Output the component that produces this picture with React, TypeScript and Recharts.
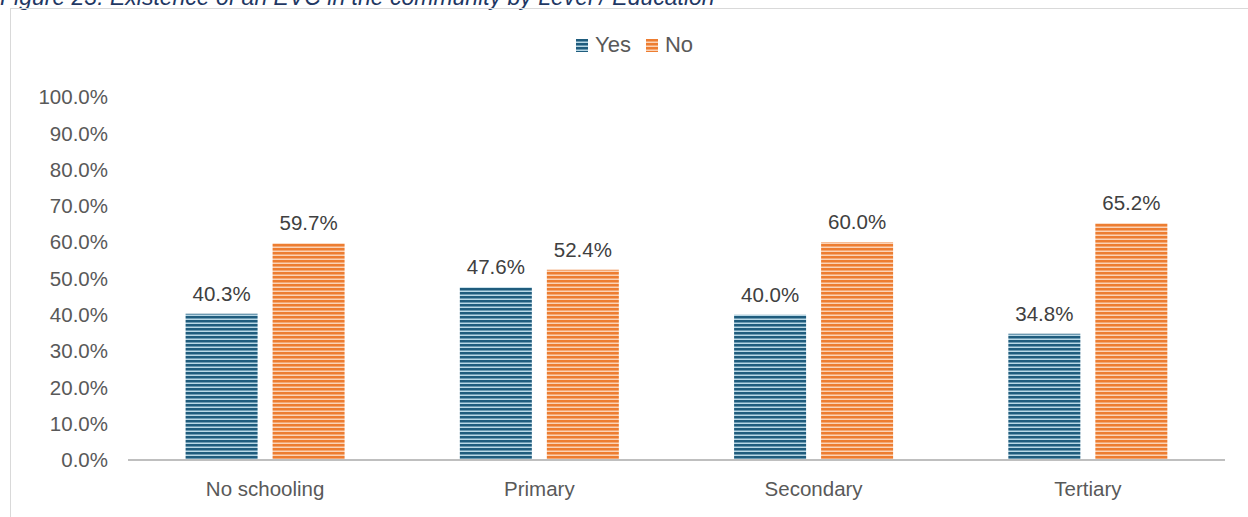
import { BarChart, Bar, XAxis, YAxis, LabelList } from "recharts";

const categories = ["No schooling", "Primary", "Secondary", "Tertiary"];
const yesValues = [40.3, 47.6, 40.0, 34.8];
const noValues = [59.7, 52.4, 60.0, 65.2];
const yTicks = [0, 10, 20, 30, 40, 50, 60, 70, 80, 90, 100];

const data = categories.map((name, i) => ({ name, yes: yesValues[i], no: noValues[i] }));

const font = "'Liberation Sans', Arial, sans-serif";
const fs = 20.5;
const pct = (v: any) => `${Number(v).toFixed(1)}%`;

const Swatch = ({ id }: { id: string }) => (
  <svg width={12} height={13} style={{ marginRight: 7 }}>
    <rect width={12} height={13} fill={`url(#${id})`} />
  </svg>
);

export default function App() {
  return (
    <div style={{ position: "absolute", left: 0, top: 0, width: 1248, height: 517, overflow: "hidden", background: "#fff", fontFamily: font }}>
      <div style={{ position: "absolute", left: 0, top: -16, fontSize: 23, fontStyle: "italic", color: "#1f3864", whiteSpace: "nowrap" }}>
        Figure 23: Existence of an EVC in the community by Level / Education
      </div>
      <div style={{ position: "absolute", left: 10, top: 8, width: 1300, height: 600, border: "1px solid #d9d9d9" }} />
      <svg width={0} height={0} style={{ position: "absolute" }}>
        <defs>
          <pattern id="stripeBlueL" width={4} height={4} patternUnits="userSpaceOnUse">
            <rect width={4} height={4} fill="#1f5c7d" />
            <rect y={2.5} width={4} height={1.5} fill="#b9d8e6" />
          </pattern>
          <pattern id="stripeOrangeL" width={4} height={4} patternUnits="userSpaceOnUse">
            <rect width={4} height={4} fill="#ed7d31" />
            <rect y={2.5} width={4} height={1.5} fill="#fbd3b6" />
          </pattern>
        </defs>
      </svg>
      <div style={{ position: "absolute", left: 576, top: 32, display: "flex", alignItems: "center", fontSize: 22, color: "#595959" }}>
        <Swatch id="stripeBlueL" />
        <span style={{ marginRight: 15 }}>Yes</span>
        <Swatch id="stripeOrangeL" />
        <span>No</span>
      </div>
      <div style={{ position: "absolute", left: 0, top: 0 }}>
        <BarChart width={1248} height={517} data={data} margin={{ top: 97, right: 23, bottom: 0, left: 0 }} barCategoryGap="21%" barGap={15}>
          <defs>
            <pattern id="stripeBlue" width={4} height={4} patternUnits="userSpaceOnUse">
              <rect width={4} height={4} fill="#1f5c7d" />
              <rect y={2.5} width={4} height={1.5} fill="#b9d8e6" />
            </pattern>
            <pattern id="stripeOrange" width={4} height={4} patternUnits="userSpaceOnUse">
              <rect width={4} height={4} fill="#ed7d31" />
              <rect y={2.5} width={4} height={1.5} fill="#fbd3b6" />
            </pattern>
          </defs>
          <XAxis
            dataKey="name"
            height={57}
            tickLine={false}
            tickSize={0}
            tickMargin={21}
            axisLine={{ stroke: "#bfbfbf", strokeWidth: 2 }}
            tick={{ fill: "#595959", fontSize: fs, fontFamily: font }}
          />
          <YAxis
            width={128}
            domain={[0, 100]}
            ticks={yTicks}
            interval={0}
            axisLine={false}
            tickLine={false}
            tickSize={0}
            tickMargin={20}
            tickFormatter={pct}
            tick={{ fill: "#595959", fontSize: fs, fontFamily: font }}
          />
          <Bar dataKey="yes" name="Yes" fill="url(#stripeBlue)" isAnimationActive={false}>
            <LabelList dataKey="yes" position="top" offset={13} formatter={pct} fill="#404040" fontSize={fs} fontFamily={font} />
          </Bar>
          <Bar dataKey="no" name="No" fill="url(#stripeOrange)" isAnimationActive={false}>
            <LabelList dataKey="no" position="top" offset={13} formatter={pct} fill="#404040" fontSize={fs} fontFamily={font} />
          </Bar>
        </BarChart>
      </div>
    </div>
  );
}
